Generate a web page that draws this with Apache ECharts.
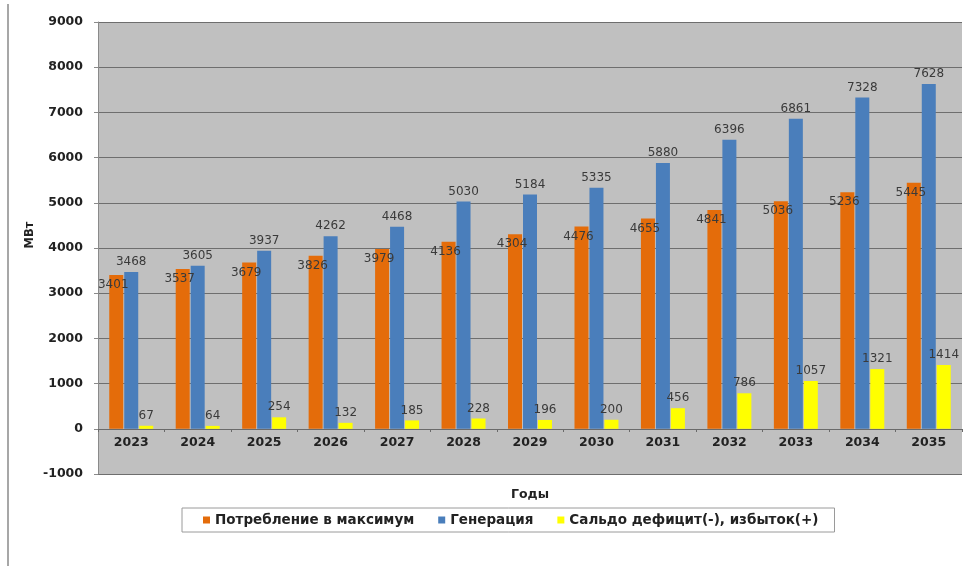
<!DOCTYPE html>
<html>
<head>
<meta charset="utf-8">
<script src="https://cdn.jsdelivr.net/npm/echarts@6/dist/echarts.min.js"></script>
<style>
  html, body { margin: 0; padding: 0; background: #ffffff; }
  #chart { width: 978px; height: 571px; }
</style>
</head>
<body>
<div id="chart"></div>
<script>
// Balance of power: peak consumption, generation and surplus/deficit, MW
const years = ['2023', '2024', '2025', '2026', '2027', '2028', '2029', '2030', '2031', '2032', '2033', '2034', '2035'];
const consumption = [3401, 3537, 3679, 3826, 3979, 4136, 4304, 4476, 4655, 4841, 5036, 5236, 5445];
const generation = [3468, 3605, 3937, 4262, 4468, 5030, 5184, 5335, 5880, 6396, 6861, 7328, 7628];
const balance = [67, 64, 254, 132, 185, 228, 196, 200, 456, 786, 1057, 1321, 1414];
const seriesNames = ['Потребление в максимум', 'Генерация', 'Сальдо дефицит(-), избыток(+)'];

const FONT = 'DejaVu Sans, Verdana, sans-serif';
const labelStyle = { color: '#3a3a3a', fontSize: 12, fontFamily: FONT };
const boldText = { color: '#222', fontSize: 12.5, fontWeight: 'bold', fontFamily: FONT };

const chart = echarts.init(document.getElementById('chart'), null, { renderer: 'canvas' });
chart.setOption({
  animation: false,
  backgroundColor: '#ffffff',
  grid: { left: 98, right: 16, top: 22, bottom: 97, show: true, backgroundColor: '#c0c0c0', borderWidth: 0 },
  legend: {
    top: 508,
    left: 182,
    itemWidth: 7,
    itemHeight: 7,
    itemGap: 24,
    padding: [5, 16, 5, 21],
    borderColor: '#9a9a9a',
    borderWidth: 1,
    icon: 'rect',
    textStyle: { ...boldText, fontSize: 13.5 },
    data: seriesNames
  },
  xAxis: {
    type: 'category',
    data: years,
    position: 'bottom',
    offset: -45,
    name: 'Годы',
    nameLocation: 'middle',
    nameGap: 59,
    nameTextStyle: { ...boldText },
    axisLine: { onZero: false, lineStyle: { color: '#6a6a6a', width: 1 } },
    axisTick: { show: true, length: 3, lineStyle: { color: '#6a6a6a' } },
    axisLabel: { ...boldText, margin: 7 }
  },
  yAxis: {
    type: 'value',
    min: -1000,
    max: 9000,
    interval: 1000,
    axisLine: { show: true, lineStyle: { color: '#8a8a8a' } },
    axisTick: { show: true, length: 4, inside: false, lineStyle: { color: '#8a8a8a' } },
    axisLabel: { ...boldText, margin: 15, formatter: v => String(v) },
    splitLine: { show: true, lineStyle: { color: '#6e6e6e', width: 1 } }
  },
  series: [
    {
      name: seriesNames[0],
      type: 'bar',
      data: consumption,
      barWidth: 14,
      barGap: '7%',
      itemStyle: { color: '#e46c0a' },
      label: { show: true, position: 'insideTop', distance: 4, offset: [-3, 0], ...labelStyle }
    },
    {
      name: seriesNames[1],
      type: 'bar',
      data: generation,
      barWidth: 14,
      barGap: '7%',
      itemStyle: { color: '#4a7ebb' },
      label: { show: true, position: 'top', distance: 4, ...labelStyle }
    },
    {
      name: seriesNames[2],
      type: 'bar',
      data: balance,
      barWidth: 14,
      barGap: '7%',
      itemStyle: { color: '#ffff00' },
      label: { show: true, position: 'top', distance: 4, ...labelStyle }
    }
  ],
  graphic: [
    { type: 'line', shape: { x1: 8, y1: 4, x2: 8, y2: 566 }, style: { stroke: '#8a8a8a', lineWidth: 1.5 } },
    {
      type: 'text', x: 30, y: 235, rotation: Math.PI / 2,
      style: { text: 'МВт', ...boldText, fontSize: 11.5, fill: '#222', align: 'center', verticalAlign: 'middle' }
    }
  ]
});
</script>
</body>
</html>
